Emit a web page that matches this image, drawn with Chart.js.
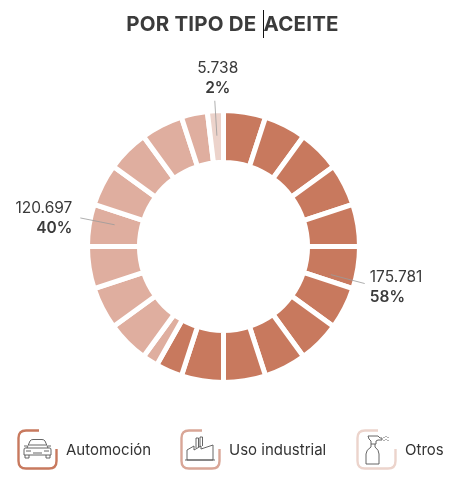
<!DOCTYPE html>
<html>
<head>
<meta charset="utf-8">
<script src="https://cdn.jsdelivr.net/npm/chart.js@4/dist/chart.umd.min.js"></script>
<style>
  html, body { margin: 0; padding: 0; background: #fff; }
  body { width: 465px; height: 490px; position: relative; overflow: hidden; font-family: Inter, "Open Sans", sans-serif; }
  #title { position: absolute; left: 0; top: 10px; width: 465px; text-align: center; font-weight: 700; font-size: 20.5px; color: #3b3b3b; letter-spacing: 0.2px; }
  #caret { display: inline-block; width: 0; height: 28px; border-left: 1.2px solid #111; vertical-align: -7px; margin-left: 1px; }
  #wrap { position: absolute; left: 0; top: 0; width: 465px; height: 490px; }
  .item { position: absolute; top: 429px; height: 41px; display: flex; align-items: center; font-size: 15px; color: #333; }
  .item svg { margin-right: 8px; }
</style>
</head>
<body>
<div id="wrap"><canvas id="donut"></canvas></div>
<div id="title">POR TIPO DE <span id="caret"></span>ACEITE</div>

<div class="item" style="left:17px">
  <svg width="41" height="41" viewBox="0 0 41 41">
    <path d="M39.5 20 V32 Q39.5 39.5 32 39.5 H9 Q1.5 39.5 1.5 32 V9 Q1.5 1.5 9 1.5 H22" fill="none" stroke="#c8795e" stroke-width="2.4"/>
    <g fill="none" stroke="#555" stroke-width="0.9">
      <path d="M10 19 L13 12 Q14 10.5 16 10.5 H25 Q27 10.5 28 12 L31 19"/>
      <path d="M8 19 H33 Q34 19 34 21 V26 H7 V21 Q7 19 8 19 Z"/>
      <path d="M8 26 V29 H12 V26 M29 26 V29 H33 V26"/>
      <path d="M9 22 H14 M27 22 H32 M16 24 H25 M12 16 H29"/>
      <path d="M7 17 H10 M31 17 H34"/>
    </g>
  </svg>
  <span>Automoción</span>
</div>

<div class="item" style="left:180px">
  <svg width="41" height="41" viewBox="0 0 41 41">
    <path d="M39.5 20 V32 Q39.5 39.5 32 39.5 H9 Q1.5 39.5 1.5 32 V9 Q1.5 1.5 9 1.5 H22" fill="none" stroke="#d9a697" stroke-width="2.4"/>
    <g fill="none" stroke="#555" stroke-width="0.9">
      <path d="M7 31 V21 L14 17 V21 L21 17 V20 L33 16 V31 Z"/>
      <path d="M16 19 V9 H18.5 V18 M20 18 V8 H22.5 V17"/>
      <path d="M5 31 H35"/>
    </g>
  </svg>
  <span>Uso industrial</span>
</div>

<div class="item" style="left:356px">
  <svg width="41" height="41" viewBox="0 0 41 41">
    <path d="M39.5 20 V32 Q39.5 39.5 32 39.5 H9 Q1.5 39.5 1.5 32 V9 Q1.5 1.5 9 1.5 H22" fill="none" stroke="#ecd4cc" stroke-width="2.4"/>
    <g fill="none" stroke="#555" stroke-width="0.9">
      <path d="M12 7 H22 L24 9 H26 V11 H22 L20 12 V15 H15 V12 L13 10 Z"/>
      <path d="M15 15 V18 Q10 21 10 25 V35 H23 V25 Q23 21 19 18 V15"/>
      <path d="M28 8 V9 M30 7 V8 M30 10 V11 M32 8 V9 M32 11 V12 M28 11 V12"/>
    </g>
  </svg>
  <span>Otros</span>
</div>

<script>
// valores por tipo de aceite
const categories = ['Automoción', 'Uso industrial', 'Otros'];
const values = [175781, 120697, 5738];
const valueLabels = ['175.781', '120.697', '5.738'];
const percentLabels = ['58%', '40%', '2%'];
const colors = ['#c8795e', '#dfae9f', '#ecd3cb'];
const segmentCount = 20;

var total = values.reduce((a, b) => a + b, 0);

// cut the ring in equal blocks, each block split where a category ends
var bounds = [0];
values.forEach(v => bounds.push(bounds[bounds.length - 1] + v));
var cuts = [];
for (var k = 0; k <= segmentCount; k++) cuts.push(total * k / segmentCount);
bounds.forEach(b => cuts.push(b));
cuts = Array.from(new Set(cuts.map(c => Math.round(c * 1000) / 1000))).sort((a, b) => a - b);

var pieceData = [], pieceColors = [], pieceLabels = [];
for (var i = 0; i < cuts.length - 1; i++) {
    var mid = (cuts[i] + cuts[i + 1]) / 2;
    var cat = 0;
    while (cat < values.length - 1 && mid > bounds[cat + 1]) cat++;
    pieceData.push(cuts[i + 1] - cuts[i]);
    pieceColors.push(colors[cat]);
    pieceLabels.push(categories[cat]);
}

const leaderLabels = {
    id: 'leaderLabels',
    afterDatasetsDraw(chart) {
        var arc = chart.getDatasetMeta(0).data[0];
        var p = arc.getProps(['x', 'y', 'outerRadius'], true);
        var ctx = chart.ctx;
        var cum = 0;
        ctx.save();
        values.forEach(function (v, i) {
            var a = (cum + v / 2) / total * Math.PI * 2 - Math.PI / 2;
            cum += v;
            var c = Math.cos(a), s = Math.sin(a);
            var r0 = p.outerRadius - 25, r1 = p.outerRadius + 10;
            var ex = p.x + c * r1, ey = p.y + s * r1;
            ctx.strokeStyle = '#9a9a9a';
            ctx.lineWidth = 0.8;
            ctx.beginPath();
            ctx.moveTo(p.x + c * r0, p.y + s * r0);
            ctx.lineTo(ex, ey);
            ctx.stroke();

            ctx.fillStyle = '#3a3a3a';
            ctx.textBaseline = 'middle';
            var tx, ty1, ty2;
            if (Math.abs(c) > 0.7) {
                ctx.textAlign = c > 0 ? 'left' : 'right';
                tx = ex + (c > 0 ? 5 : -8);
                ty1 = ey + (c > 0 ? -6 : -10);
                ty2 = ty1 + 20;
            } else {
                ctx.textAlign = 'center';
                tx = ex + 3;
                ty1 = ey - 32; ty2 = ey - 12;
            }
            ctx.font = '400 15.5px Inter, "Open Sans", sans-serif';
            ctx.fillText(valueLabels[i], tx, ty1);
            ctx.font = '600 15.5px Inter, "Open Sans", sans-serif';
            ctx.fillText(percentLabels[i], tx, ty2);
        });
        ctx.restore();
    }
};

const ctx = document.getElementById('donut').getContext('2d');
const donut = new Chart(ctx, {
    type: 'doughnut',
    data: {
        labels: pieceLabels,
        datasets: [{
            data: pieceData,
            backgroundColor: pieceColors,
            borderColor: '#ffffff',
            borderWidth: 5,
            hoverOffset: 0
        }]
    },
    options: {
        responsive: true,
        maintainAspectRatio: false,
        animation: false,
        radius: 136,
        cutout: '61.8%',
        layout: { padding: { left: 0, right: 18, top: 3, bottom: 0 } },
        plugins: {
            legend: { display: false },
            tooltip: { enabled: false },
            title: { display: false }
        }
    },
    plugins: [leaderLabels]
});
</script>
</body>
</html>
